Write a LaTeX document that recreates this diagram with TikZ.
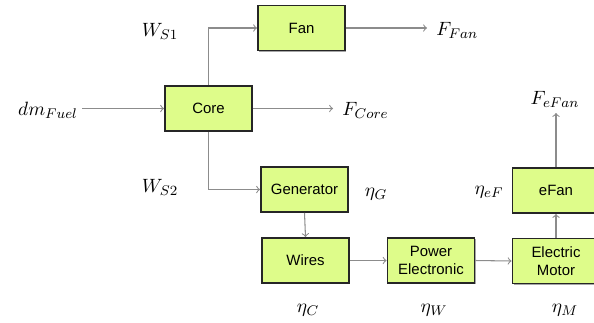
\documentclass[tikz,border=0pt]{standalone}
\usepackage{amsmath,amssymb}
\usepackage{fontspec}
\setmainfont{Liberation Sans}
\usepackage{tikz}
\usepackage{xcolor}
\usetikzlibrary{shadows}

\definecolor{boxgreen}{RGB}{222,252,138}
\definecolor{linegray}{RGB}{140,140,140}

\begin{document}
\begin{tikzpicture}[x=0.02cm,y=-0.02cm,
  block/.style={draw=black!85,line width=1.1pt,fill=boxgreen,minimum width=1.74cm,minimum height=0.9cm,
    align=center,font=\fontsize{8.5}{10}\selectfont,
    drop shadow={shadow xshift=0.6pt,shadow yshift=-0.6pt,opacity=0.35,fill=black}},
  flow/.style={draw=linegray,line width=0.6pt,-to},
  lbl/.style={font=\fontsize{11}{13}\selectfont,inner sep=0pt}]
\useasboundingbox (0,0) rectangle (594,322);
\clip (0,0) rectangle (594,322);
\node[block] (fan) at (301.5,28) {Fan};
\node[block] (core) at (208.5,108.5) {Core};
\node[block] (gen) at (304.5,189.5) {Generator};
\node[block] (wires) at (305.5,260.5) {Wires};
\node[block] (power) at (431,260.5) {Power\\Electronic};
\node[block] (motor) at (556,261) {Electric\\Motor};
\node[block] (efan) at (556,190.5) {eFan};
\coordinate (fuel) at (82,108.5);
\coordinate (fcoreend) at (333,108.5);
\coordinate (ffanend) at (427,28);
\coordinate (fefanend) at (556,113);
\draw[flow] (fuel) -- (core.west);
\draw[flow] (core.north) |- (fan.west);
\draw[flow] (core.south) |- (gen.west);
\draw[flow] (core.east) -- (fcoreend);
\draw[flow] (fan.east) -- (ffanend);
\draw[flow] (gen.south) -- (wires.north);
\draw[flow] (wires.east) -- (power.west);
\draw[flow] (power.east) -- (motor.west);
\draw[flow] (motor.north) -- (efan.south);
\draw[flow] (efan.north) -- (fefanend);
\node[lbl] (dmfuel) at (48,110) {$dm_{Fuel}$};
\node[lbl] (ws1) at (160,31) {$W_{S1}$};
\node[lbl] (ws2) at (160,187) {$W_{S2}$};
\node[lbl,anchor=west] (ffan) at (436,30) {$F_{Fan}$};
\node[lbl,anchor=west] (fcore) at (342,110) {$F_{Core}$};
\node[lbl] (fefan) at (555,99) {$F_{eFan}$};
\node[lbl] (etag) at (376,194) {$\eta_G$};
\node[lbl] (etaef) at (489,192) {$\eta_{eF}$};
\node[lbl] (etac) at (308,310) {$\eta_C$};
\node[lbl] (etaw) at (434,310) {$\eta_W$};
\node[lbl] (etam) at (565,310) {$\eta_M$};
\end{tikzpicture}
\end{document}
